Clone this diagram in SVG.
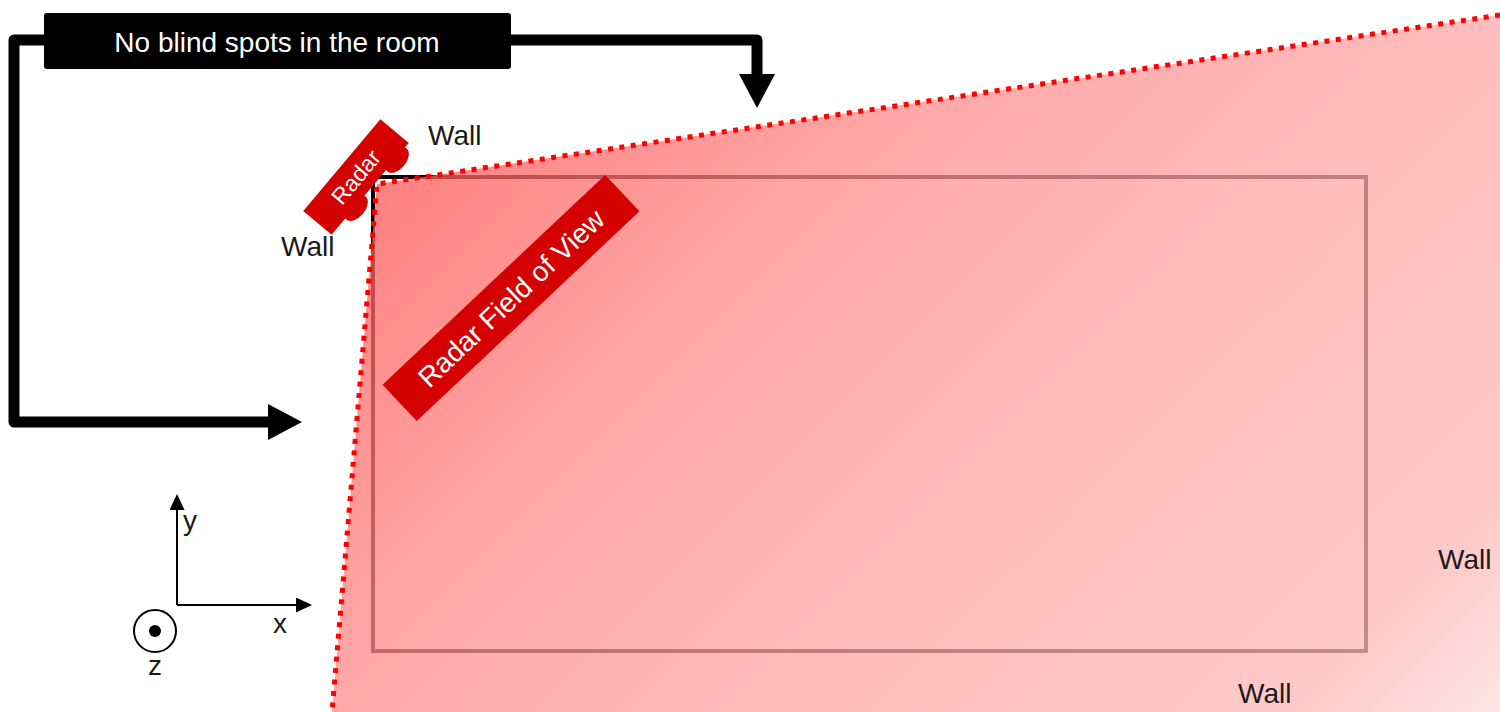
<svg xmlns="http://www.w3.org/2000/svg" width="1500" height="712" viewBox="0 0 1500 712">
  <defs>
    <linearGradient id="fovGrad" gradientUnits="userSpaceOnUse" x1="372" y1="180" x2="1202" y2="1010">
      <stop offset="0" stop-color="#ff5858"/>
      <stop offset="0.29" stop-color="#ff8d8d"/>
      <stop offset="0.57" stop-color="#ffa7a7"/>
      <stop offset="0.88" stop-color="#ffb9b9"/>
      <stop offset="1" stop-color="#ffdede"/>
    </linearGradient>
    <marker id="bigArrow" markerUnits="userSpaceOnUse" markerWidth="40" markerHeight="40" refX="0" refY="18" orient="auto" viewBox="0 0 40 40">
      <path d="M0,0 L34,18 L0,36 Z" fill="#000"/>
    </marker>
    <marker id="axisArrow" markerUnits="userSpaceOnUse" markerWidth="20" markerHeight="20" refX="0" refY="7.5" orient="auto" viewBox="0 0 20 20">
      <path d="M0,0 L16,7.5 L0,15 Z" fill="#000"/>
    </marker>
    <style>
      .lbl { font-family: "Liberation Sans", Arial, sans-serif; font-size: 28px; fill: #1a1a1a; }
      .wtxt { font-family: "Liberation Sans", Arial, sans-serif; fill: #ffffff; }
      .conn { fill: none; stroke: #000; stroke-width: 11; stroke-linejoin: round; }
      .axis { fill: none; stroke: #000; stroke-width: 2; }
      .redbox { fill: #d50000; }
    </style>
  </defs>

  <rect width="1500" height="712" fill="#ffffff"/>

  <g id="room">
    <rect x="373" y="177" width="993" height="474" fill="none" stroke="#000" stroke-width="4"/>
  </g>

  <g id="fov">
    <polygon points="377,184 1500,15 1500,712 332,712" fill="url(#fovGrad)" fill-opacity="0.76"/>
    <polyline points="1500,15 377,184 332,712" fill="none" stroke="#ff0000" stroke-width="5" stroke-dasharray="5 6.5"/>
  </g>

  <g id="radar">
    <ellipse cx="397" cy="160" rx="15" ry="9" transform="rotate(-50 397 160)" fill="#d50000"/>
    <ellipse cx="356" cy="208" rx="15" ry="9" transform="rotate(-50 356 208)" fill="#d50000"/>
    <rect x="296" y="158.5" width="120" height="37" transform="rotate(-50 356 177)" class="redbox"/>
    <text x="356" y="185" text-anchor="middle" class="wtxt" font-size="23" transform="rotate(-50 356 177)">Radar</text>
  </g>

  <g id="fov-label">
    <rect x="358" y="273" width="306" height="50" transform="rotate(-43.3 511 298)" class="redbox"/>
    <text x="511" y="308" text-anchor="middle" class="wtxt" font-size="28" transform="rotate(-43.3 511 298)">Radar Field of View</text>
  </g>

  <g id="walls">
    <text x="428" y="145" class="lbl">Wall</text>
    <text x="281" y="256" class="lbl">Wall</text>
    <text x="1438" y="569" class="lbl">Wall</text>
    <text x="1238" y="703" class="lbl">Wall</text>
  </g>

  <g id="connectors">
    <path class="conn" d="M44,40 H14 V422 H268" marker-end="url(#bigArrow)"/>
    <path class="conn" d="M511,40 H757 V74" marker-end="url(#bigArrow)"/>
  </g>

  <g id="title">
    <rect x="44" y="13" width="467" height="56" rx="3" fill="#000"/>
    <text x="277" y="52" text-anchor="middle" class="wtxt" font-size="28">No blind spots in the room</text>
  </g>

  <g id="axes">
    <path class="axis" d="M177,605 V510" marker-end="url(#axisArrow)"/>
    <path class="axis" d="M177,605 H296" marker-end="url(#axisArrow)"/>
    <text x="183" y="530" class="lbl">y</text>
    <text x="273" y="633" class="lbl">x</text>
    <circle cx="155" cy="631" r="21" fill="none" stroke="#000" stroke-width="2"/>
    <circle cx="155" cy="631" r="6" fill="#000"/>
    <text x="148" y="675" class="lbl">z</text>
  </g>
</svg>
